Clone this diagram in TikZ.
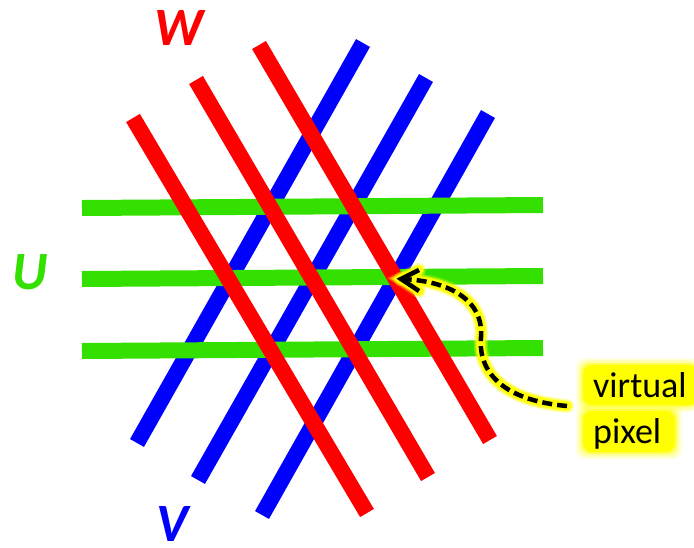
\documentclass[tikz,border=0pt]{standalone}
\usepackage{fontspec}
\setmainfont{Carlito}
\usetikzlibrary{arrows.meta}
\definecolor{cgreen}{RGB}{52,224,0}
\definecolor{cblue}{RGB}{0,0,255}
\definecolor{cred}{RGB}{255,0,0}
\definecolor{glowy}{RGB}{255,255,0}
\begin{document}
\begin{tikzpicture}[x=1pt,y=-1pt,
  bar/.style={line width=16pt},
  axislabel/.style={font=\fontsize{54}{54}\selectfont\bfseries\itshape, inner sep=0pt},
  word/.style={font=\fontsize{36}{36}\selectfont, inner sep=0pt, anchor=base west},
  arrowpath/.style={line cap=round}
]
\useasboundingbox (0,0) rectangle (694,547);
% blue (V)
\draw[bar, cblue] (137,443) -- (363,43);
\draw[bar, cblue] (198,480) -- (426,78);
\draw[bar, cblue] (262,515) -- (488,114);
% green (U)
\draw[bar, cgreen] (82,208) -- (543,205);
\draw[bar, cgreen] (82,279) -- (543,276);
\draw[bar, cgreen] (82,351) -- (543,348);
% red (W)
\draw[bar, cred] (133,118) -- (367,513);
\draw[bar, cred] (196,80) -- (428,477);
\draw[bar, cred] (259,45) -- (490,440);
% labels
\node[axislabel, text=cred] (W) at (179,28) {W};
\node[axislabel, text=cgreen] (U) at (30,272) {U};
\node[axislabel, text=cblue] (V) at (172,524) {V};
% glow behind text
\foreach \o/\e in {0.15/7, 0.25/4.5, 0.45/2, 1/0} {
  \fill[glowy, opacity=\o, rounded corners=9pt] (583-\e,365-\e) rectangle (698,405+\e);
  \fill[glowy, opacity=\o, rounded corners=9pt] (583-\e,411-\e) rectangle (675+\e,452+\e);
}
\node[word] (t1) at (593,397) {virtual};
\node[word] (t2) at (593,443) {pixel};
% arrow
\coordinate (s) at (567,406);
\coordinate (m) at (481,337);
\coordinate (e) at (401,279);
\foreach \o/\w in {0.3/14, 0.6/11, 1/8.5} {
  \draw[glowy, opacity=\o, line width=\w pt, arrowpath]
    (s) .. controls (500,400) and (478,370) .. (m) .. controls (484,295) and (440,280) .. (e);
  \draw[glowy, opacity=\o, line width=\w pt, arrowpath] (419,270) -- (e) -- (419,291);
}
\draw[black, line width=4.5pt, dash pattern=on 10pt off 5pt]
  (s) .. controls (500,400) and (478,370) .. (m) .. controls (484,295) and (440,280) .. (e);
\draw[black, line width=4.5pt, line join=miter] (419,270) -- (e) -- (419,291);
\end{tikzpicture}
\end{document}
